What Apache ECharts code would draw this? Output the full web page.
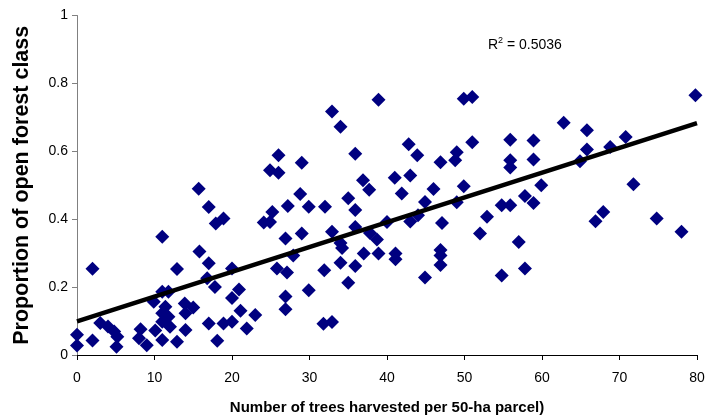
<!DOCTYPE html>
<html>
<head>
<meta charset="utf-8">
<script src="https://cdn.jsdelivr.net/npm/echarts@6/dist/echarts.min.js"></script>
<style>
html,body{margin:0;padding:0;background:#fff;}
#chart{width:706px;height:417px;}
</style>
</head>
<body>
<div id="chart"></div>
<script>
// Observed points: [trees harvested, proportion open forest]
var pointsA = [
  [0,0.06],[0,0.028],[2,0.254],[2,0.043],[3,0.094],[4,0.084],[4.8,0.069],[5.2,0.054],[5.1,0.024],
  [8.2,0.076],[8,0.049],[9,0.029],[10.1,0.072],[9.9,0.157]
];
var pointsB = [
  [11,0.348],[11,0.186],[11.8,0.186],[11.4,0.142],[11,0.123],[11.8,0.113],[11,0.098],[12,0.083],
  [11,0.044],[12.9,0.253],[12.9,0.039],[14,0.074],[14,0.123],[13.9,0.152],[15,0.14],[15.7,0.49],
  [17,0.436],[17.9,0.387],[18.9,0.402],[15.8,0.305],[17,0.27],[16.8,0.226],[17.8,0.2],[18.1,0.042],
  [17,0.093],[18.9,0.093],[20,0.255],[20,0.168],[20,0.098]
];
var pointsC = [
  [20.9,0.193],[21.1,0.13],[23,0.118],[21.9,0.078],[24.1,0.39],[24.9,0.392],[25.2,0.421],[26,0.588],
  [24.9,0.544],[26,0.537],[29,0.566],[28.8,0.474],[27.2,0.439],[29.9,0.437],[26.9,0.343],[29,0.358],
  [27.9,0.293],[25.8,0.255],[27.1,0.243],[29.9,0.191],[26.9,0.172],[26.9,0.135]
];
var pointsD = [
  [32,0.437],[31.9,0.25],[31.8,0.092],[32.9,0.097],[38.9,0.752],[32.9,0.717],[34,0.672],[42.8,0.621],
  [43.9,0.588],[46.9,0.568],[35.9,0.593],[36.9,0.515],[37.7,0.487],[41,0.522],[43,0.529],[41.9,0.476],
  [46,0.489],[35,0.462],[35.9,0.427],[44.9,0.451],[44,0.412],[43,0.393],[47.1,0.389],[40,0.392],
  [35.9,0.377],[32.9,0.363],[37.8,0.359],[38.7,0.34],[34,0.33],[34.2,0.315],[37,0.299],[38.9,0.299],
  [41.1,0.299],[41.1,0.282],[34,0.272],[35.9,0.262],[46.9,0.309],[46.9,0.293],[46.9,0.265],
  [44.9,0.228],[35,0.213]
];
var pointsE = [
  [49.9,0.755],[51,0.76],[51,0.627],[55.9,0.634],[58.9,0.632],[62.8,0.684],[49,0.597],[48.8,0.574],
  [55.9,0.574],[58.9,0.576],[55.9,0.552],[49.9,0.497],[59.9,0.5],[49,0.45],[57.8,0.468],[58.9,0.448],
  [54.8,0.441],[55.9,0.441],[52.9,0.407],[52,0.358],[57,0.333],[54.8,0.234],[57.8,0.255]
];
var pointsF = [
  [79.8,0.765],[65.8,0.662],[70.8,0.642],[65.8,0.605],[68.8,0.613],[64.9,0.571],[71.8,0.503],
  [67.9,0.421],[66.9,0.394],[74.8,0.402],[78,0.363]
];
// Linear trend line endpoints (as drawn)
var trendLine = [[0,0.099],[80,0.683]];
var xTicks = [0,10,20,30,40,50,60,70,80];
var yTicks = [0,0.2,0.4,0.6,0.8,1];
var rSquaredText = '0.5036';
var xTitle = 'Number of trees harvested per 50-ha parcel)';
var yTitle = 'Proportion of open forest class';

var allPoints = [].concat(pointsA, pointsB, pointsC, pointsD, pointsE, pointsF);

var chart = echarts.init(document.getElementById('chart'), null, {renderer:'canvas'});
var font = 'Liberation Sans, Arial, sans-serif';
chart.setOption({
  animation:false,
  backgroundColor:'#fff',
  grid:{left:77,right:9,top:15.5,bottom:62,containLabel:false,outerBoundsMode:'none'},
  xAxis:{
    type:'value',min:xTicks[0],max:xTicks[xTicks.length-1],interval:10,
    axisLine:{onZero:false,lineStyle:{color:'#000',width:1}},
    axisTick:{show:true,length:5,lineStyle:{color:'#000'}},
    axisLabel:{color:'#000',fontSize:14,fontFamily:font,margin:16},
    splitLine:{show:false},
    name:xTitle,nameLocation:'middle',nameGap:45,
    nameTextStyle:{color:'#000',fontSize:15,fontWeight:'bold',fontFamily:font}
  },
  yAxis:{
    type:'value',min:yTicks[0],max:yTicks[yTicks.length-1],interval:0.2,
    axisLine:{lineStyle:{color:'#808080',width:1}},
    axisTick:{show:true,length:5,lineStyle:{color:'#808080'}},
    axisLabel:{color:'#000',fontSize:14,fontFamily:font,margin:9,
      formatter:function(v){return String(Math.round(v*10)/10);}},
    splitLine:{show:false},
    name:yTitle,nameLocation:'middle',nameGap:44,
    nameTextStyle:{color:'#000',fontSize:21.5,fontWeight:'bold',fontFamily:font}
  },
  graphic:[{
    type:'text',left:488,top:36,
    style:{
      text:'{a|R}{s|2}{a| = '+rSquaredText+'}',
      rich:{
        a:{fontSize:14,fontFamily:font,fill:'#000',verticalAlign:'bottom'},
        s:{fontSize:9,fontFamily:font,fill:'#000',verticalAlign:'top',padding:[0,0,7,0]}
      }
    }
  }],
  series:[
    {
      type:'scatter',data:allPoints,symbol:'diamond',symbolSize:14,
      itemStyle:{color:'#000080',opacity:1},z:2
    },
    {
      type:'line',data:trendLine,symbol:'none',
      lineStyle:{color:'#000',width:4.5},z:3
    }
  ]
});
</script>
</body>
</html>
